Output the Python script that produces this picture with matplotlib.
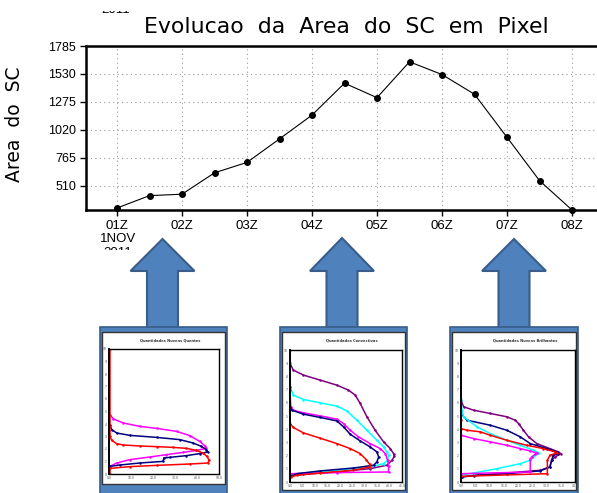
import matplotlib
matplotlib.use("Agg")
import matplotlib.pyplot as plt
from matplotlib.patches import Polygon, Rectangle

# ---------------- main chart data ----------------
hours = [1.0, 1.5, 2.0, 2.5, 3.0, 3.5, 4.0, 4.5, 5.0, 5.5, 6.0, 6.5, 7.0, 7.5, 8.0]
area = [308, 421, 434, 629, 724, 938, 1155, 1446, 1314, 1641, 1525, 1345, 953, 558, 290]
xtick_pos = [1, 2, 3, 4, 5, 6, 7, 8]
xtick_labels = ["01Z", "02Z", "03Z", "04Z", "05Z", "06Z", "07Z", "08Z"]
ytick_vals = [510, 765, 1020, 1275, 1530, 1785]
title = "Evolucao  da  Area  do  SC  em  Pixel"
ylabel = "Area  do  SC"

# ---------------- inset 1 (warm clouds) ----------------
i1_red_x = [0.45, 0.45, 1.2, 3.5, 6.5, 14.0, 21.6, 29.1, 35.2, 39.7, 42.7, 44.5, 45.4, 45.1, 36.7, 21.6, 9.5, 0.45, 0.45]
i1_red_y = [10.0, 3.01, 2.69, 2.43, 2.32, 2.24, 2.19, 2.13, 2.05, 1.89, 1.68, 1.41, 1.15, 0.88, 0.80, 0.69, 0.59, 0.45, 0.0]
i1_navy_x = [0.45, 1.2, 3.5, 9.5, 21.6, 32.2, 38.2, 42.0, 44.2, 45.0, 41.2, 35.2, 27.6, 24.9, 24.6, 14.0, 5.0, 0.45]
i1_navy_y = [3.95, 3.55, 3.28, 3.09, 2.93, 2.75, 2.48, 2.21, 1.95, 1.76, 1.63, 1.47, 1.33, 1.28, 1.01, 0.88, 0.72, 0.61]
i1_mag_x = [0.45, 2.0, 6.5, 14.0, 21.6, 30.7, 36.7, 41.2, 43.5, 44.2, 39.7, 33.7, 26.1, 18.6, 9.5, 3.5, 0.45]
i1_mag_y = [4.75, 4.40, 4.08, 3.81, 3.65, 3.41, 3.07, 2.61, 2.27, 2.05, 1.89, 1.73, 1.55, 1.36, 1.15, 0.88, 0.61]

# ---------------- inset 2 (convective) ----------------
i2_pur_x = [0, 0, 1.3, 5.4, 12.1, 18.8, 23.5, 26.2, 28.2, 30.9, 34.2, 37.6, 40.3, 41.6, 41.9, 41.0, 38.9, 32.2, 18.8, 5.4, 0.3]
i2_pur_y = [10, 8.99, 8.48, 8.10, 7.72, 7.34, 6.96, 6.58, 5.95, 4.94, 3.92, 3.04, 2.53, 2.15, 1.95, 1.65, 1.27, 1.01, 0.76, 0.58, 0.51]
i2_cyan_x = [0, 0, 1.3, 5.4, 12.1, 18.8, 22.8, 26.9, 30.9, 34.9, 37.6, 38.9, 39.6, 39.2, 37.6, 32.2, 18.8, 5.4, 0.3]
i2_cyan_y = [8.99, 7.22, 6.58, 6.25, 6.00, 5.75, 5.39, 4.68, 3.92, 3.16, 2.66, 2.28, 2.03, 1.65, 1.39, 1.14, 0.89, 0.68, 0.58]
i2_mag_x = [0, 0.3, 1.3, 5.4, 12.1, 18.8, 21.5, 24.2, 27.5, 32.2, 36.3, 38.3, 39.2, 39.6, 39.6, 18.8, 0.3]
i2_mag_y = [6.96, 5.70, 5.44, 5.24, 5.01, 4.76, 4.43, 3.92, 3.42, 2.91, 2.53, 2.15, 1.65, 1.20, 0.76, 0.71, 0.63]
i2_navy_x = [0, 0.7, 5.4, 12.1, 18.8, 21.5, 24.2, 28.2, 32.2, 34.9, 35.6, 34.9, 33.6, 25.5, 12.1, 2.7, 0.3]
i2_navy_y = [5.70, 5.44, 5.14, 4.89, 4.63, 4.18, 3.62, 3.11, 2.66, 2.28, 1.90, 1.52, 1.27, 1.06, 0.84, 0.63, 0.43]
i2_red_x = [0, 0, 1.3, 5.4, 12.1, 18.8, 24.2, 28.2, 30.6, 32.0, 32.2, 25.5, 12.1, 2.7, 0.3]
i2_red_y = [7.22, 4.43, 4.13, 3.72, 3.32, 2.91, 2.53, 2.15, 1.70, 1.34, 1.14, 0.89, 0.68, 0.51, 0.38]

# ---------------- inset 3 (bright clouds) ----------------
i3_pur_x = [0, 0, 0.9, 4.4, 10.3, 16.1, 19.0, 20.2, 21.9, 23.7, 26.6, 31.2, 34.2, 35.0, 33.0, 31.8, 31.2, 27.8, 16.1, 4.4, 0.2]
i3_pur_y = [10, 6.20, 5.70, 5.44, 5.19, 4.94, 4.68, 4.43, 3.92, 3.42, 2.91, 2.53, 2.28, 2.15, 1.90, 1.65, 1.14, 0.89, 0.68, 0.51, 0.38]
i3_navy_x = [0, 2.1, 10.3, 16.1, 20.8, 24.3, 30.1, 33.6, 34.2, 32.4, 31.8, 31.2, 27.8, 16.1, 4.4, 0.2]
i3_navy_y = [5.19, 4.68, 4.30, 3.92, 3.42, 2.91, 2.53, 2.28, 2.15, 2.03, 1.65, 1.14, 0.84, 0.63, 0.48, 0.38]
i3_cyan_x = [0, 0.3, 0.9, 5.6, 10.3, 16.1, 20.8, 25.4, 27.5, 25.4, 24.3, 20.8, 12.6, 4.4, 0.2]
i3_cyan_y = [6.20, 5.44, 4.94, 4.18, 3.67, 3.16, 2.78, 2.41, 2.20, 1.90, 1.65, 1.39, 1.01, 0.68, 0.51]
i3_red_x = [0, 0, 2.1, 6.8, 10.3, 16.1, 23.1, 28.9, 33.0, 33.8, 31.2, 30.3, 30.3, 0]
i3_red_y = [4.68, 4.05, 3.92, 3.80, 3.54, 3.16, 2.78, 2.53, 2.28, 2.20, 2.03, 1.65, 0.63, 0.43]
i3_mag_x = [0, 4.4, 10.3, 16.1, 20.8, 24.3, 26.6, 26.0, 24.8, 24.3, 24.3, 0]
i3_mag_y = [3.54, 3.29, 3.04, 2.78, 2.53, 2.35, 2.20, 2.10, 1.90, 1.77, 0.76, 0.63]

W, H = 597, 493
fig = plt.figure(figsize=(W / 100, H / 100), dpi=100)
fig.patch.set_facecolor("white")


def px_axes(x0, y0, x1, y1):
    return [x0 / W, 1 - y1 / H, (x1 - x0) / W, (y1 - y0) / H]


# ---------------- main chart ----------------
ax = fig.add_axes(px_axes(86, 46, 625, 210))
ax.plot(hours, area, color="black", lw=0.8, marker="o", ms=4.0, zorder=3, clip_on=False)
ax.set_xlim(1 - 31 / 65, 1 + 508 / 65)
ax.set_ylim(290, 1785)
ax.set_xticks(xtick_pos)
ax.set_xticklabels(xtick_labels, fontsize=9.5, family="Liberation Sans")
ax.set_yticks(ytick_vals)
ax.set_yticklabels([str(v) for v in ytick_vals], fontsize=9, family="Liberation Sans")
ax.tick_params(direction="out", length=4, width=1, pad=3)
ax.grid(True, color="#9a9a9a", ls=(0, (1, 3)), lw=0.8)
for s in ax.spines.values():
    s.set_linewidth(1.8)
ax.set_ylabel(ylabel, fontsize=13.5, family="DejaVu Sans")
ax.yaxis.set_label_coords(-0.115, 0.52)
ax.annotate("1NOV", xy=(1, 0), xycoords=("data", "axes fraction"),
            xytext=(1, -29), textcoords="offset pixels", ha="center", va="center",
            fontsize=9.5, family="Liberation Sans")
fig.text(346 / W, 1 - 27 / H, title, ha="center", va="center", fontsize=15.8,
         family="DejaVu Sans")

# ---------------- overlay: arrows and panels ----------------
ov = fig.add_axes([0, 0, 1, 1])
ov.set_xlim(0, W)
ov.set_ylim(H, 0)
ov.axis("off")

# cut-off text lines of the pasted picture (only a sliver remains visible)
ov.text(118, 246.5, "2011", ha="center", va="top", fontsize=9.5, family="Liberation Sans", zorder=1)
ov.add_patch(Rectangle((95, 249.5), 55, 12, fc="white", ec="none", zorder=1.5))
ov.text(116, 13, "2011", ha="center", va="baseline", fontsize=9.5, family="Liberation Sans", zorder=1)
ov.add_patch(Rectangle((90, -2), 60, 12.5, fc="white", ec="none", zorder=1.5))

blue = "#4F81BD"
blue_edge = "#385D8A"


def arrow(cx, tip):
    pts = [(cx, tip), (cx + 32, 271), (cx + 15.5, 271), (cx + 15.5, 332),
           (cx - 15.5, 332), (cx - 15.5, 271), (cx - 32, 271)]
    ov.add_patch(Polygon(pts, closed=True, fc=blue, ec=blue_edge, lw=1.5, zorder=2))


def panel(x0, x1, wb):
    ov.add_patch(Rectangle((x0, 327), x1 - x0, 170, fc=blue, ec=blue_edge, lw=1.2, zorder=3))
    ov.add_patch(Rectangle((x0 + 2, 331.5), x1 - x0 - 4, wb - 331.5, fc="white",
                           ec="#333333", lw=1.0, zorder=4))


arrow(162.5, 239)
arrow(342, 238)
arrow(514, 239)
panel(100, 227, 484)
panel(280, 407, 490)
panel(450, 578, 490)


def inset(box, ttl, xmax, xstep, curves, title_x):
    a = fig.add_axes(px_axes(*box))
    for xs, ys, c in curves:
        a.plot(xs, ys, color=c, lw=1.1, marker=".", ms=1.6, solid_joinstyle="round")
    a.set_xlim(0, xmax)
    a.set_ylim(0, 10)
    xt = list(range(0, xmax + 1, xstep))
    a.set_xticks(xt)
    a.set_xticklabels([f"{v:.1f}" for v in xt], fontsize=2.2, color="#444444")
    a.set_yticks(range(0, 11))
    a.set_yticklabels([str(v) for v in range(0, 11)], fontsize=2.2, color="#444444")
    a.tick_params(length=0, pad=1.5)
    for s in a.spines.values():
        s.set_linewidth(1.0)
        s.set_color("black")
    a.spines["left"].set_linewidth(1.4)
    fig.text(title_x / W, 1 - 340 / H, ttl, ha="center", va="center", fontsize=2.6,
             fontweight="bold", color="#333333")
    a.set_zorder(5)
    return a


inset((109, 349, 219, 474), "Quantidades Nuvens Quentes", 50, 10,
      [(i1_mag_x, i1_mag_y, "#FF00FF"), (i1_navy_x, i1_navy_y, "#000080"),
       (i1_red_x, i1_red_y, "#FF0000")], 170)
inset((290, 350, 402, 482), "Quantidades Convectivas", 45, 5,
      [(i2_pur_x, i2_pur_y, "#800080"), (i2_cyan_x, i2_cyan_y, "#00FFFF"),
       (i2_mag_x, i2_mag_y, "#FF00FF"), (i2_navy_x, i2_navy_y, "#000080"),
       (i2_red_x, i2_red_y, "#FF0000")], 352)
inset((461, 350, 575, 482), "Quantidades Nuvens Brilhantes", 40, 5,
      [(i3_pur_x, i3_pur_y, "#800080"), (i3_navy_x, i3_navy_y, "#000080"),
       (i3_cyan_x, i3_cyan_y, "#00FFFF"), (i3_red_x, i3_red_y, "#FF0000"),
       (i3_mag_x, i3_mag_y, "#FF00FF")], 525)

fig.savefig("out.png", dpi=100, facecolor="white")
